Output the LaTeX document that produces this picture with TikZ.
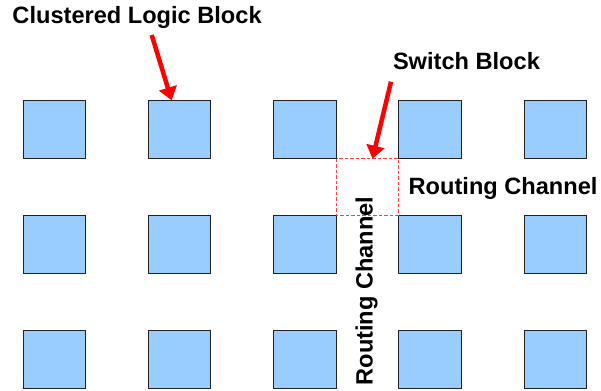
\documentclass[tikz,border=0pt]{standalone}
\usepackage{fontspec}
\setmainfont{Liberation Sans}
\usetikzlibrary{arrows.meta,calc}
\definecolor{clbfill}{HTML}{99CCFF}
\definecolor{clbedge}{HTML}{222222}
\definecolor{sbred}{HTML}{FF4040}
\tikzset{
  clb/.style={draw=clbedge, line width=0.9pt, fill=clbfill,
    minimum width=62.5pt, minimum height=57.5pt, inner sep=0pt},
  lbl/.style={inner sep=0pt, anchor=base west,
    font=\fontsize{23.6}{28}\selectfont\bfseries},
  pointer/.style={draw=red, line width=4.5pt,
    -{Triangle[length=13pt,width=18pt]}},
  switchbox/.style={draw=sbred, line width=0.8pt, dash pattern=on 3.5pt off 2pt}
}
\begin{document}
\begin{tikzpicture}[x=1pt,y=-1pt]
\useasboundingbox (0,0) rectangle (601,390);
% 3 x 5 array of clustered logic blocks
\foreach \r/\yc in {1/129.5,2/244.5,3/359.5}{
  \foreach \c in {1,...,5}{
    \node[clb] (b\r\c) at ({54.25+125.3*(\c-1)},\yc) {};
  }
}
% switch block at the crossing of the two routing channels
\draw[switchbox] (b13.south east) rectangle (b24.north west);
\coordinate (sbtop) at ($(b13.south east)!0.58!(b14.south west)$);
% labels
\node[lbl] (clbl) at (12.3,23.5) {Clustered Logic Block};
\node[lbl] (sbl) at (392.8,69.5) {Switch Block};
\node[lbl] (rch) at (408.5,194) {Routing Channel};
\node[lbl, rotate=90] (rcv) at (372.7,385.5) {Routing Channel};
% pointers
\coordinate (t1) at (151.7,35);
\coordinate (t2) at (391,81.7);
\draw[pointer] (t1) -- ($(b12.north west)+(23.8,0)$);
\draw[pointer] (t2) -- (sbtop);
\end{tikzpicture}
\end{document}
